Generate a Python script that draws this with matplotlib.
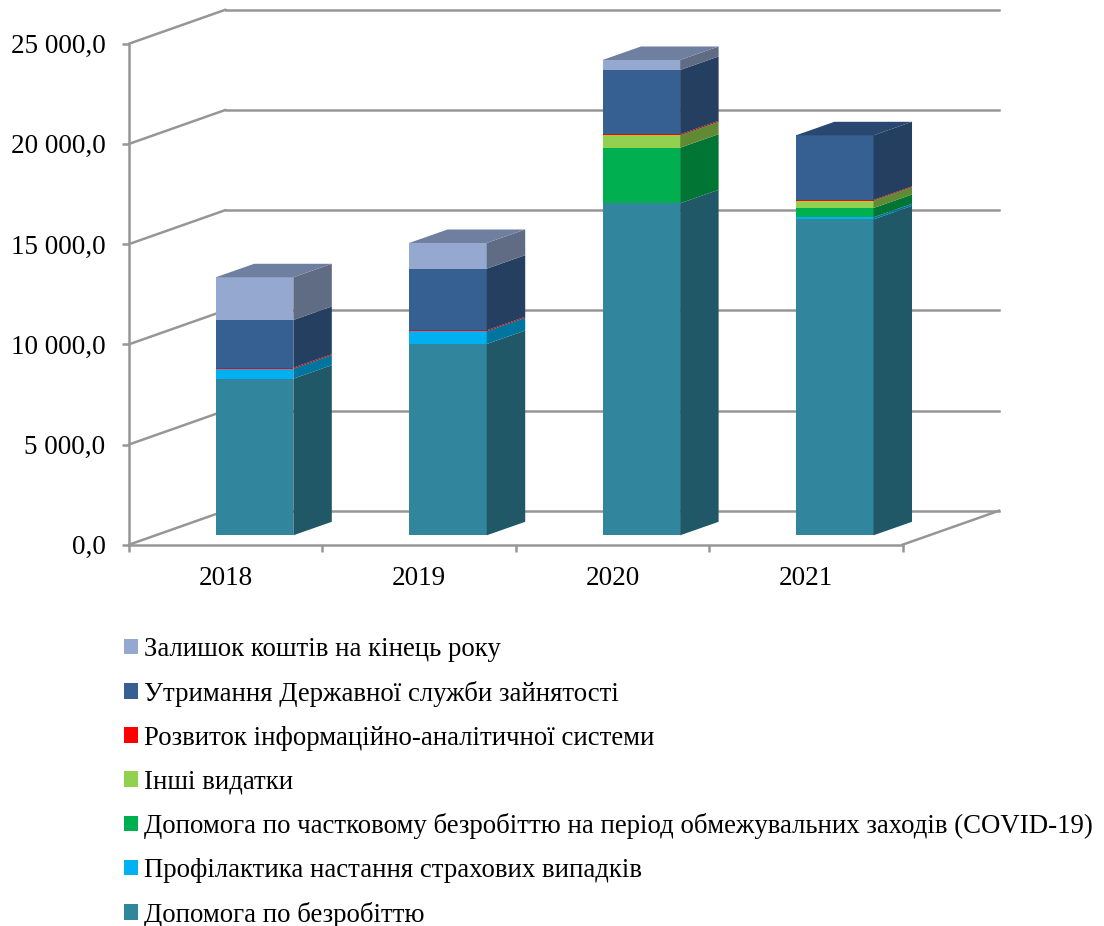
import matplotlib
matplotlib.use("Agg")
import matplotlib.pyplot as plt
from matplotlib.patches import Patch
from matplotlib.ticker import FuncFormatter
import numpy as np

years = ["2018", "2019", "2020", "2021"]
unemployment = [7815, 9546, 16567, 15768]
prevention = [500, 634, 0, 100]
covid = [0, 0, 2774, 464]
other = [0, 0, 619, 365]
info_system = [50, 50, 50, 40]
service = [2380, 3074, 3209, 3223]
balance = [2130, 1283, 499, 0]

series = [unemployment, prevention, covid, other, info_system, service, balance]
labels = ["Допомога по безробіттю",
          "Профілактика настання страхових випадків",
          "Допомога по частковому безробіттю на період обмежувальних заходів (COVID-19)",
          "Інші видатки",
          "Розвиток інформаційно-аналітичної системи",
          "Утримання Державної служби зайнятості",
          "Залишок коштів на кінець року"]
front = ["#31859C", "#00B0F0", "#00B050", "#92D050", "#FF0000", "#366092", "#95A9D0"]
side = ["#205867", "#0075A0", "#007534", "#618A35", "#AA0000", "#243F60", "#5F6C84"]
top = ["#205867", "#0075A0", "#007534", "#618A35", "#AA0000", "#2A4770", "#6F7F9F"]

plt.rcParams["font.family"] = ["Liberation Serif", "DejaVu Serif"]
W, H = 1104, 926
fig = plt.figure(figsize=(W / 100, H / 100), dpi=100)
ax = fig.add_axes([0, 0, 1, 1])

# pixel geometry of the pseudo-3D box
x0_px, y0_px = 129.0, 544.7
cat_px, val_px = 193.4, 100.2 / 5000
ax.set_xlim((0 - x0_px) / cat_px, (W - x0_px) / cat_px)
ax.set_ylim((y0_px - H) / val_px, y0_px / val_px)
ax.patch.set_visible(False)

wall_dx, wall_dy = 96.5 / cat_px, 34 / val_px
bar_dx, bar_dy = 38.5 / cat_px, 13.5 / val_px
bar_w = 77.6 / cat_px
bar_off, base = 0.149, 9.4 / val_px
GRID = "#969696"
LW = 1.8

yt = np.arange(0, 25001, 5000)
for v in yt:
    ax.plot([0, wall_dx], [v, v + wall_dy], color=GRID, lw=LW, zorder=1, solid_capstyle="round")
    ax.plot([wall_dx, 4 + wall_dx], [v + wall_dy] * 2, color=GRID, lw=LW, zorder=1)
ax.plot([4, 4 + wall_dx], [0, wall_dy], color=GRID, lw=LW, zorder=1)

for i in range(len(years)):
    xl = i + 0.5 + bar_off - bar_w / 2
    xr = xl + bar_w
    cum = base
    last = None
    for k, s in enumerate(series):
        v = s[i]
        if v <= 0:
            continue
        ax.bar(xl, v, width=bar_w, bottom=cum, align="edge", color=front[k], lw=0, zorder=3)
        ax.fill([xr, xr + bar_dx, xr + bar_dx, xr],
                [cum, cum + bar_dy, cum + v + bar_dy, cum + v],
                color=side[k], lw=0, zorder=3)
        cum += v
        last = k
    ax.fill([xl, xr, xr + bar_dx, xl + bar_dx],
            [cum, cum, cum + bar_dy, cum + bar_dy], color=top[last], lw=0, zorder=3)

for name in ("top", "right"):
    ax.spines[name].set_visible(False)
for name in ("left", "bottom"):
    ax.spines[name].set_position(("data", 0))
    ax.spines[name].set_color(GRID)
    ax.spines[name].set_linewidth(LW)
ax.spines["left"].set_bounds(0, 25000)
ax.spines["bottom"].set_bounds(0, 4)

ax.set_yticks(yt)
ax.yaxis.set_major_formatter(FuncFormatter(
    lambda v, _: f"{int(v):,}".replace(",", " ") + ",0"))
ax.set_xticks(range(5))
ax.set_xticklabels([""] * 5)
ax.set_xticks(np.arange(4) + 0.5, labels=years, minor=True)
ax.tick_params(axis="y", which="major", color=GRID, width=LW, length=5,
               labelsize=19.5, labelcolor="black", pad=12)
ax.tick_params(axis="x", which="major", color=GRID, width=LW, length=5,
               labelsize=19.5, labelcolor="black", pad=4)
ax.tick_params(axis="x", which="minor", length=0, labelsize=19.5, pad=15.5)

handles = [Patch(color=c, lw=0) for c in front[::-1]]
leg = ax.legend(handles, labels[::-1], loc="upper left",
                bbox_to_anchor=(124 / W, 1 - 637 / H), frameon=False,
                fontsize=19.3, handlelength=0.52, handleheight=0.52,
                handletextpad=0.22, labelspacing=0.70, borderpad=0, borderaxespad=0)

fig.savefig("out.png", dpi=100)
